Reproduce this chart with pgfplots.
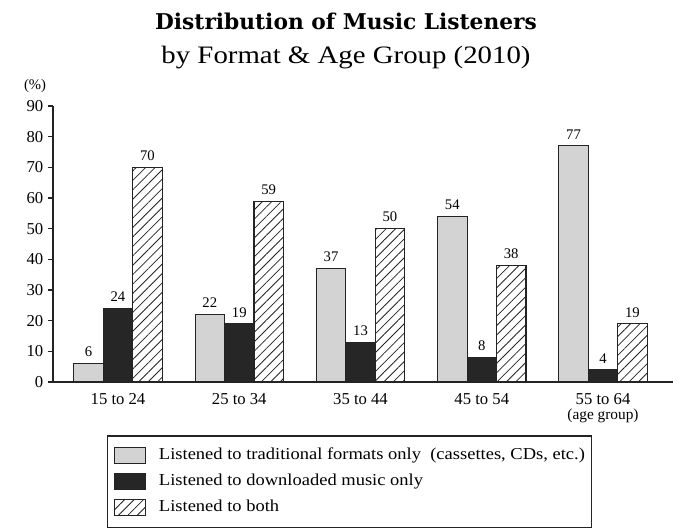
\documentclass[border=0pt]{standalone}
\usepackage{fontspec}
\setmainfont{Liberation Serif}
\newfontfamily\titlefont{DejaVu Serif}
\newfontfamily\widefont[FakeStretch=1.15]{Liberation Serif}
\newfontfamily\legendfont[FakeStretch=1.11]{Liberation Serif}
\usepackage{pgfplots}
\pgfplotsset{compat=1.18}
\usetikzlibrary{patterns.meta}
\definecolor{lightbar}{RGB}{211,211,211}
\definecolor{darkbar}{RGB}{38,38,38}
\definecolor{edge}{RGB}{35,35,35}

% patch 23pt x 12pt, then an empty path that leaves the gap before the text
\pgfplotsset{
  boxlegend/.style={legend image code/.code={%
    \draw[##1] (0pt,-6pt) rectangle (23pt,6pt);
    \path (32.75pt,0pt);}},
}

\begin{document}
\begin{tikzpicture}
\useasboundingbox (0,0) rectangle (512.25pt,397.5pt);
% title, two lines
\node[anchor=base, font=\titlefont\bfseries\fontsize{16.3}{19}\selectfont] at (259.5pt,375pt) {Distribution of Music Listeners};
\node[anchor=base, font=\widefont\fontsize{18.8}{22}\selectfont] at (259.5pt,349.5pt) {by Format \& Age Group (2010)};
\node[anchor=base, font=\fontsize{11}{13}\selectfont] at (26.25pt,330pt) {(\%)};
\begin{axis}[
  at={(39.75pt,111pt)}, anchor=south west,
  scale only axis, width=465pt, height=207pt,
  xmin=-0.536, xmax=4.577, ymin=0, ymax=90,
  ybar=0pt, bar width=22.1pt,
  axis x line*=bottom, axis y line*=left,
  axis line style={line width=0.9pt, edge},
  xtick={0,1,2,3,4},
  xticklabels={15 to 24, 25 to 34, 35 to 44, 45 to 54, 55 to 64},
  xtick style={draw=none},
  ytick={0,10,...,90},
  tick align=outside, major tick length=3.75pt,
  ytick style={line width=0.9pt, edge},
  tick label style={font=\fontsize{12.5}{14}\selectfont},
  /pgf/number format/assume math mode=true,
  xticklabel style={anchor=base, yshift=-13.5pt},
  nodes near coords,
  every node near coord/.append style={font=\fontsize{11}{13}\selectfont, text=black, inner sep=0pt, yshift=4.5pt},
  clip=false,
  legend cell align=left,
  legend style={at={(axis description cs:0.0871,-0.1935)}, anchor=north west,
    draw=edge, line width=0.9pt, font=\legendfont\fontsize{12.5}{15}\selectfont,
    inner xsep=5pt, inner ysep=8.2pt, row sep=6.8pt,
    nodes={inner sep=0pt, text height=9pt, text depth=3pt}},
]
\addplot[fill=lightbar, draw=edge, line width=0.8pt, boxlegend]
  coordinates {(0,6)(1,22)(2,37)(3,54)(4,77)};
\addlegendentry{Listened to traditional formats only\ \ (cassettes, CDs, etc.)}
\addplot[fill=darkbar, draw=edge, line width=0.8pt, boxlegend]
  coordinates {(0,24)(1,19)(2,13)(3,8)(4,4)};
\addlegendentry{Listened to downloaded music only}
\addplot[pattern={Lines[angle=45,distance=5pt,line width=0.6pt]}, pattern color=edge,
  draw=edge, line width=0.8pt, boxlegend]
  coordinates {(0,70)(1,59)(2,50)(3,38)(4,19)};
\addlegendentry{Listened to both}
\node[anchor=base, yshift=-28pt, font=\fontsize{11.5}{13}\selectfont] at (axis cs:4,0) {(age group)};
\end{axis}
\end{tikzpicture}
\end{document}
